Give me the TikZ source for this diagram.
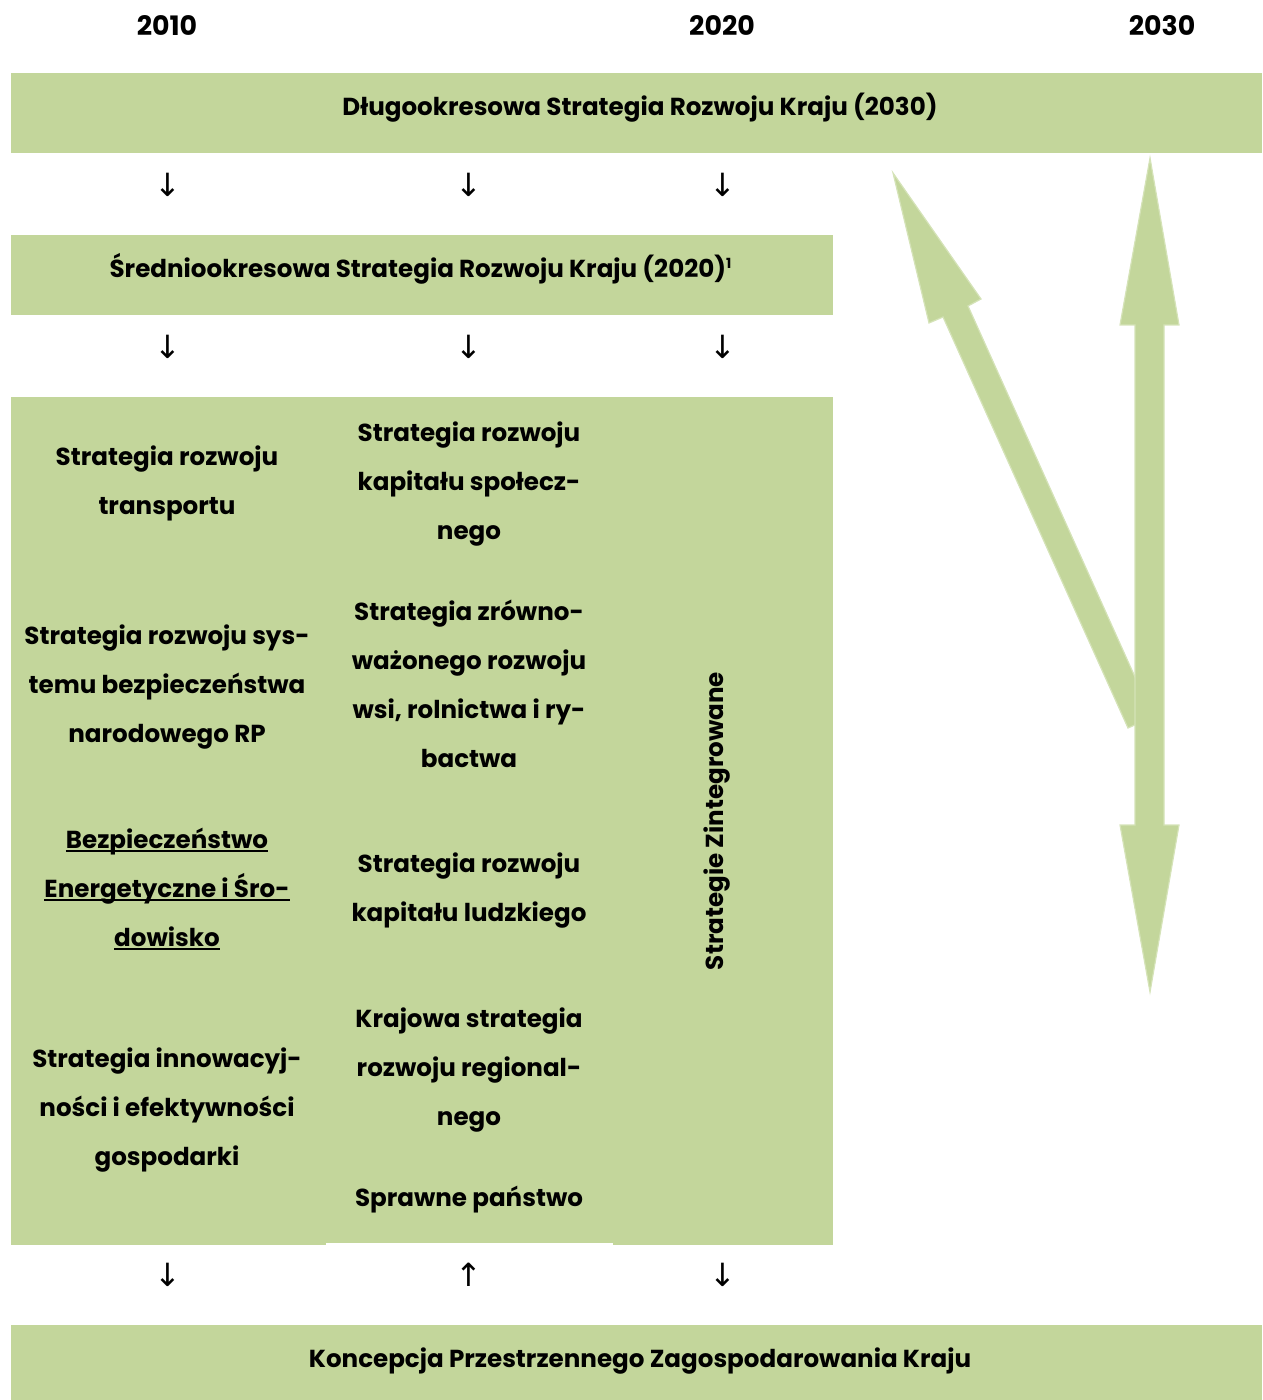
\documentclass[tikz,border=0pt]{standalone}
\usepackage{fontspec}
\setmainfont{Poppins}
\newfontfamily\arrowfont{DejaVu Sans}
\definecolor{bandgreen}{HTML}{C3D69B}
\definecolor{bandedge}{HTML}{D5E3B8}
\newcommand\ulin[1]{\setbox0\hbox{#1}\rlap{\rule[-1.8pt]{\wd0}{1pt}}\box0}
\tikzset{band/.style={fill=bandgreen},
  title/.style={font=\bfseries\fontsize{12.3}{14}\selectfont},
  year/.style={font=\bfseries\fontsize{13.4}{15}\selectfont},
  item/.style={align=center,font=\bfseries\fontsize{12.3}{24.5}\selectfont},
  tick/.style={font=\arrowfont\fontsize{16}{16}\selectfont},
  bigarrow/.style={fill=bandgreen,draw=bandedge,line width=0.6pt}}

\begin{document}
\begin{tikzpicture}[x=0.5pt,y=-0.5pt]
    \useasboundingbox (0,0) rectangle (1262,1400);
    % years
    \node[year] (y2010) at (167,26) {2010};
    \node[year] (y2020) at (722,26) {2020};
    \node[year] (y2030) at (1162,26) {2030};
    % bands
    \fill[band] (11,73) rectangle (1262,153);
    \node[title] (dsrk) at (640,108) {Długookresowa Strategia Rozwoju Kraju (2030)};
    \fill[band] (11,235) rectangle (833,315);
    \node[title] (ssrk) at (421,269)
    {Średniookresowa Strategia Rozwoju Kraju (2020)\textsuperscript{\scriptsize 1}};
    \fill[band] (11,397) rectangle (326,1245);
    \fill[band] (326,397) rectangle (613,1243);
    \fill[band] (613,397) rectangle (833,1245);
    \fill[band] (11,1325) rectangle (1262,1400);
    \node[title] (kpzk) at (640,1361) {Koncepcja Przestrzennego Zagospodarowania Kraju};
    % small arrows
    \foreach \x in {168,469,723}{
      \node[tick] at (\x,185) {↓};
      \node[tick] at (\x,347) {↓};
    }
    \node[tick] (ka) at (168,1275) {↓};
    \node[tick] (kb) at (469,1275) {↑};
    \node[tick] (kc) at (723,1275) {↓};
    % strategies, left column
    \node[item] (trans) at (167,483) {Strategia rozwoju\\transportu};
    \node[item] (bezp) at (167,687)
    {Strategia rozwoju sys-\\temu bezpieczeństwa\\narodowego RP};
    \node[item] (energ) at (167,889)
    {\ulin{Bezpieczeństwo}\\\ulin{Energetyczne i Śro-}\\\ulin{dowisko}};
    \node[item] (innow) at (167,1110)
    {Strategia innowacyj-\\ności i efektywności\\gospodarki};
    % strategies, middle column
    \node[item] (spol) at (469,484)
    {Strategia rozwoju\\kapitału społecz-\\nego};
    \node[item] (wsi) at (469,684)
    {Strategia zrówno-\\ważonego rozwoju\\wsi, rolnictwa i ry-\\bactwa};
    \node[item] (ludz) at (469,891) {Strategia rozwoju\\kapitału ludzkiego};
    \node[item] (regio) at (469,1070)
    {Krajowa strategia\\rozwoju regional-\\nego};
    \node[item] (panst) at (469,1200) {Sprawne państwo};
    \node[item,rotate=90] (zint) at (717,821) {Strategie Zintegrowane};
    % big arrows
    \filldraw[bigarrow] (893,173) -- (981,299) -- (968,306) -- (1153,717)
    -- (1128,728) -- (943,317) -- (929,323) -- cycle;
    \filldraw[bigarrow] (1150,158) -- (1179,325) -- (1164,325) -- (1164,825)
    -- (1179,825) -- (1150,992) -- (1120,825) -- (1135,825) -- (1135,325)
    -- (1120,325) -- cycle;
  \end{tikzpicture}
\end{document}
